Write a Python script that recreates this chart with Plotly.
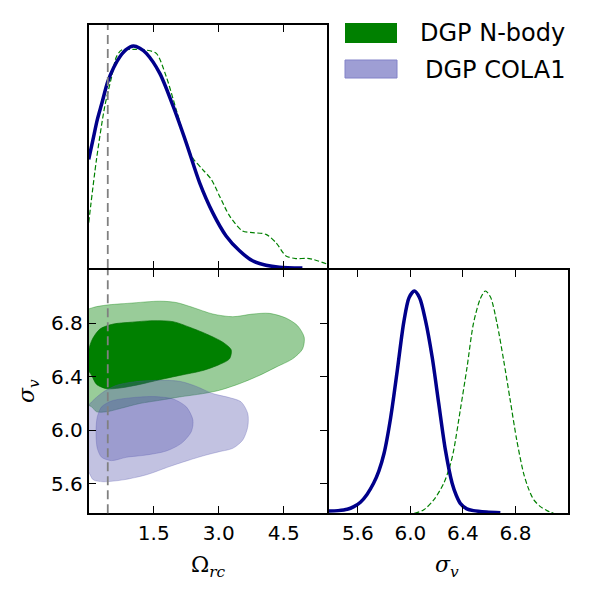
import plotly.graph_objects as go

# ---------------- data ----------------
# 1D marginal of Omega_rc (normalised to peak)
omega_x_cola = [0.0, 0.1, 0.2, 0.3, 0.44, 0.58, 0.72, 0.87, 1.03, 1.18, 1.33, 1.64, 1.95, 2.25, 2.56, 2.86, 3.17,
                3.48, 3.78, 4.09, 4.4, 4.93]
omega_y_cola = [0.49, 0.58, 0.67, 0.74, 0.84, 0.905, 0.952, 0.985, 1.0, 0.99, 0.967, 0.877, 0.728, 0.564, 0.384,
                0.25, 0.145, 0.078, 0.033, 0.013, 0.004, 0.0]

omega_x_nbody = [0.0, 0.18, 0.37, 0.53, 0.64, 0.76, 1.03, 1.33, 1.56, 1.79, 2.02, 2.25, 2.40, 2.63, 2.83, 3.02,
                 3.25, 3.55, 3.78, 4.09, 4.32, 4.55, 4.78, 5.09, 5.5]
omega_y_nbody = [0.205, 0.49, 0.728, 0.862, 0.952, 0.982, 0.985, 0.982, 0.967, 0.862, 0.713, 0.564, 0.496, 0.444,
                 0.399, 0.324, 0.235, 0.167, 0.16, 0.152, 0.115, 0.055, 0.043, 0.043, 0.018]

# 1D marginal of sigma_v
sigma_x_cola = [5.377, 5.45, 5.52, 5.57, 5.62, 5.67, 5.72, 5.76, 5.80, 5.85, 5.90, 5.95, 5.99, 6.03, 6.07, 6.115,
                6.166, 6.216, 6.267, 6.318, 6.35, 6.38, 6.43, 6.48, 6.58, 6.685]
sigma_y_cola = [0.010, 0.012, 0.018, 0.03, 0.05, 0.085, 0.135, 0.19, 0.27, 0.43, 0.64, 0.86, 0.97, 1.0, 0.97, 0.868,
                0.703, 0.494, 0.284, 0.135, 0.08, 0.045, 0.02, 0.012, 0.006, 0.003]

sigma_x_nbody = [6.03, 6.10, 6.178, 6.254, 6.30, 6.33, 6.38, 6.432, 6.48, 6.533, 6.571, 6.61, 6.66, 6.71, 6.76,
                 6.81, 6.862, 6.90, 6.94, 6.99, 7.04, 7.09]
sigma_y_nbody = [0.0, 0.015, 0.06, 0.135, 0.21, 0.284, 0.464, 0.659, 0.853, 0.966, 1.0, 0.973, 0.853, 0.689, 0.509,
                 0.329, 0.18, 0.11, 0.06, 0.03, 0.012, 0.0]

# 2D contours (Omega_rc, sigma_v)
nbody_95_x = [-0.047, 0.106, 0.413, 0.949, 1.639, 2.022, 2.405, 2.865, 3.325, 3.784, 4.168, 4.552, 4.818, 4.972,
              4.934, 4.704, 4.322, 3.938, 3.478, 3.018, 2.635, 2.099, 1.639, 1.179, 0.720, 0.413, 0.183, 0.068, -0.047]
nbody_95_y = [6.894, 6.919, 6.937, 6.951, 6.966, 6.956, 6.919, 6.870, 6.850, 6.870, 6.875, 6.840, 6.783, 6.696,
              6.609, 6.535, 6.473, 6.411, 6.349, 6.300, 6.275, 6.250, 6.225, 6.201, 6.163, 6.139, 6.139, 6.176, 6.201]

nbody_68_x = [-0.047, 0.068, 0.260, 0.566, 0.949, 1.486, 1.946, 2.329, 2.712, 3.095, 3.287, 3.248, 3.018, 2.635,
              2.099, 1.639, 1.179, 0.720, 0.413, 0.183, 0.068, -0.047]
nbody_68_y = [6.523, 6.671, 6.758, 6.795, 6.808, 6.820, 6.813, 6.771, 6.721, 6.659, 6.602, 6.535, 6.493, 6.448,
              6.411, 6.379, 6.344, 6.317, 6.312, 6.344, 6.411, 6.473]

cola_95_x = [-0.047, 0.106, 0.336, 0.643, 1.026, 1.563, 2.099, 2.482, 2.865, 3.248, 3.517, 3.670, 3.670, 3.555,
             3.325, 3.018, 2.712, 2.329, 1.869, 1.333, 0.796, 0.336, 0.106, 0.015, -0.047]
cola_95_y = [6.163, 6.225, 6.287, 6.337, 6.362, 6.374, 6.367, 6.329, 6.275, 6.245, 6.213, 6.126, 6.027, 5.928,
             5.866, 5.841, 5.816, 5.779, 5.730, 5.668, 5.630, 5.616, 5.630, 5.680, 5.730]

cola_68_x = [0.168, 0.198, 0.298, 0.528, 0.949, 1.486, 1.946, 2.252, 2.405, 2.367, 2.137, 1.792, 1.333, 0.873,
             0.528, 0.298, 0.198]
cola_68_y = [5.988, 6.101, 6.176, 6.220, 6.243, 6.253, 6.235, 6.176, 6.077, 5.990, 5.903, 5.846, 5.816, 5.799,
             5.774, 5.799, 5.866]

omega_fiducial = 0.44

omega_range = [0.0, 5.5]
sigma_range = [5.38, 7.2]
pdf_range = [0.0, 1.095]

omega_ticks = [1.5, 3.0, 4.5]
omega_ticktext = ["1.5", "3.0", "4.5"]
sigma_ticks = [5.6, 6.0, 6.4, 6.8]
sigma_ticktext = ["5.6", "6.0", "6.4", "6.8"]

legend_labels = ["DGP N-body", "DGP COLA1"]

# ---------------- styles ----------------
W, H = 593, 594
LW = 1.8
GREEN = "#008000"
NAVY = "#00008b"
GREEN_LIGHT = "rgba(0,128,0,0.40)"
PURPLE_OUT = "rgba(80,80,170,0.35)"
PURPLE_IN = "rgba(80,80,170,0.33)"


def px_x(p):
    return p / W


def px_y(p):
    return 1 - p / H


# panel edges in pixels; shared borders leave a gap of LW so the axis lines coincide
colL = [px_x(88.7), px_x(328 - LW / 2)]
colR = [px_x(328 + LW / 2), px_x(568)]
rowT = [px_y(269 - LW / 2), px_y(25)]
rowB = [px_y(513.3), px_y(269 + LW / 2)]

fig = go.Figure()


def line(x, y, xa, ya, color, width, dash="solid"):
    fig.add_trace(go.Scatter(x=x, y=y, xaxis=xa, yaxis=ya, mode="lines",
                             line=dict(color=color, width=width, dash=dash, shape="spline", smoothing=0.8),
                             showlegend=False, hoverinfo="skip"))


def region(x, y, fillc, linec):
    fig.add_trace(go.Scatter(x=x + [x[0]], y=y + [y[0]], xaxis="x2", yaxis="y2", mode="lines",
                             fill="toself", fillcolor=fillc,
                             line=dict(color=linec, width=0.8, shape="spline", smoothing=0.8),
                             showlegend=False, hoverinfo="skip"))


# top-left 1D
line(omega_x_nbody, omega_y_nbody, "x", "y", GREEN, 1.2, "5px,2.5px")
line(omega_x_cola, omega_y_cola, "x", "y", NAVY, 3.5)

# 2D
region(nbody_95_x, nbody_95_y, GREEN_LIGHT, "rgba(0,128,0,0.45)")
region(nbody_68_x, nbody_68_y, GREEN, "rgba(0,110,0,0.8)")
region(cola_95_x, cola_95_y, PURPLE_OUT, "rgba(80,80,170,0.35)")
region(cola_68_x, cola_68_y, PURPLE_IN, "rgba(80,80,170,0.35)")

# bottom-right 1D
line(sigma_x_nbody, sigma_y_nbody, "x3", "y3", GREEN, 1.2, "5px,2.5px")
line(sigma_x_cola, sigma_y_cola, "x3", "y3", NAVY, 3.5)

TICKFONT = dict(family="DejaVu Sans", size=20, color="black")
common = dict(showline=True, linecolor="black", linewidth=LW, mirror="ticks", showgrid=False, zeroline=False,
              ticks="inside", ticklen=7, tickwidth=1, tickcolor="black", tickfont=TICKFONT, fixedrange=True)
noticks = dict(showline=True, linecolor="black", linewidth=LW, mirror=True, showgrid=False, zeroline=False,
               ticks="", showticklabels=False, fixedrange=True)

fig.update_layout(
    width=W, height=H, margin=dict(l=0, r=0, t=0, b=0),
    paper_bgcolor="white", plot_bgcolor="white", showlegend=False,
    xaxis=dict(domain=colL, anchor="y", range=omega_range, tickvals=omega_ticks, showticklabels=False, **common),
    yaxis=dict(domain=rowT, anchor="x", range=pdf_range, **noticks),
    xaxis2=dict(domain=colL, anchor="y2", range=omega_range, tickvals=omega_ticks, ticktext=omega_ticktext,
                ticklabelstandoff=1, **common),
    yaxis2=dict(domain=rowB, anchor="x2", range=sigma_range, tickvals=sigma_ticks, ticktext=sigma_ticktext,
                ticklabelstandoff=0, **common),
    xaxis3=dict(domain=colR, anchor="y3", range=sigma_range, tickvals=sigma_ticks, ticktext=sigma_ticktext,
                ticklabelstandoff=1, **common),
    yaxis3=dict(domain=rowB, anchor="x3", range=pdf_range, **noticks),
)

# fiducial dashed line
for xr, yr in (("x", "y domain"), ("x2", "y2 domain")):
    fig.add_shape(type="line", xref=xr, yref=yr, x0=omega_fiducial, x1=omega_fiducial, y0=0, y1=1,
                  line=dict(color="rgb(128,128,128)", width=1.8, dash="9px,5px"), layer="above")

MATH = dict(family="DejaVu Serif", size=22, color="black")
fig.add_annotation(text="Ω<sub><i>rc</i></sub>", xref="paper", yref="paper", x=px_x(208.5), y=px_y(566),
                   xanchor="center", yanchor="middle", showarrow=False, font=MATH)
fig.add_annotation(text="<i>σ</i><sub><i>v</i></sub>", xref="paper", yref="paper", x=px_x(447), y=px_y(566),
                   xanchor="center", yanchor="middle", showarrow=False, font=MATH)
fig.add_annotation(text="<i>σ</i><sub><i>v</i></sub>", xref="paper", yref="paper", x=px_x(29), y=px_y(391),
                   xanchor="center", yanchor="middle", showarrow=False, font=MATH, textangle=-90)

# legend
fig.add_shape(type="rect", xref="paper", yref="paper", x0=px_x(345), x1=px_x(397), y0=px_y(43), y1=px_y(23),
              fillcolor=GREEN, line=dict(width=0))
fig.add_shape(type="rect", xref="paper", yref="paper", x0=px_x(345), x1=px_x(397), y0=px_y(78), y1=px_y(60),
              fillcolor="rgb(158,158,212)", line=dict(width=1, color="rgb(130,130,200)"))
LEGFONT = dict(family="DejaVu Sans", size=24, color="black")
fig.add_annotation(text=legend_labels[0], xref="paper", yref="paper", x=px_x(567), y=px_y(33),
                   xanchor="right", yanchor="middle", showarrow=False, font=LEGFONT)
fig.add_annotation(text=legend_labels[1], xref="paper", yref="paper", x=px_x(567), y=px_y(70),
                   xanchor="right", yanchor="middle", showarrow=False, font=LEGFONT)

fig.write_html("out.html")
